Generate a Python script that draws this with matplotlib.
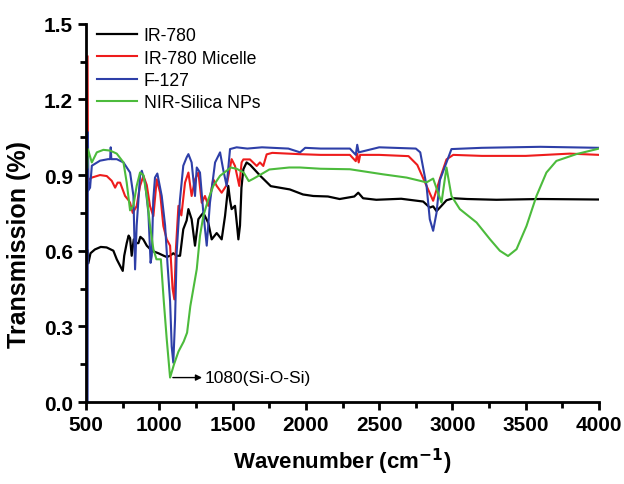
import matplotlib
matplotlib.use("Agg")
import matplotlib.pyplot as plt
from matplotlib.ticker import MultipleLocator, FormatStrFormatter

plt.rcParams["font.family"] = ["Liberation Sans", "DejaVu Sans"]

# IR-780
wn_ir = [510, 515, 530, 560, 600, 640, 686, 709, 732, 750, 760, 777, 790, 800, 811, 825,
         840, 857, 870, 890, 914, 948, 993, 1030, 1050, 1073, 1095, 1118, 1141, 1163, 1186,
         1198, 1220, 1243, 1266, 1285, 1300, 1334, 1357, 1391, 1425, 1448, 1470, 1482,
         1493, 1516, 1530, 1539, 1550, 1560, 1573, 1595, 1620, 1690, 1760, 1890, 1980,
         2050, 2150, 2230, 2330, 2357, 2390, 2480, 2650, 2800, 2845, 2868, 2891, 2920,
         2959, 3005, 3100, 3300, 3600, 4000]
t_ir = [0.60, 0.55, 0.59, 0.605, 0.615, 0.613, 0.60, 0.566, 0.54, 0.52, 0.58, 0.63, 0.66,
        0.65, 0.58, 0.645, 0.63, 0.63, 0.655, 0.645, 0.62, 0.60, 0.59, 0.58, 0.575, 0.58,
        0.59, 0.58, 0.58, 0.685, 0.72, 0.765, 0.725, 0.62, 0.725, 0.74, 0.75, 0.71, 0.645,
        0.67, 0.645, 0.738, 0.857, 0.80, 0.765, 0.778, 0.70, 0.645, 0.70, 0.85, 0.923,
        0.95, 0.94, 0.896, 0.856, 0.843, 0.823, 0.817, 0.815, 0.805, 0.815, 0.830, 0.808,
        0.802, 0.806, 0.795, 0.771, 0.776, 0.757, 0.775, 0.800, 0.808, 0.805, 0.802,
        0.805, 0.803]

# IR-780 Micelle
wn_mic = [510, 513, 539, 595, 641, 675, 698, 715, 732, 766, 790, 800, 818, 845, 868, 891,
          914, 936, 959, 982, 1005, 1027, 1050, 1073, 1090, 1102, 1112, 1130, 1150, 1175,
          1198, 1220, 1243, 1266, 1289, 1311, 1334, 1368, 1391, 1425, 1459, 1493, 1516,
          1545, 1561, 1573, 1618, 1664, 1686, 1709, 1732, 1770, 1950, 2100, 2300, 2340,
          2350, 2360, 2370, 2500, 2700, 2760, 2823, 2868, 2914, 2959, 3005, 3200, 3500,
          3800, 4000]
t_mic = [1.37, 0.88, 0.89, 0.90, 0.896, 0.877, 0.85, 0.87, 0.87, 0.817, 0.80, 0.79, 0.75,
         0.777, 0.857, 0.897, 0.86, 0.777, 0.737, 0.883, 0.83, 0.698, 0.645, 0.62, 0.45,
         0.407, 0.60, 0.778, 0.74, 0.87, 0.91, 0.817, 0.883, 0.91, 0.79, 0.817, 0.778,
         0.883, 0.857, 0.83, 0.86, 0.963, 0.936, 0.857, 0.95, 0.962, 0.962, 0.936, 0.95,
         0.936, 0.982, 0.988, 0.983, 0.980, 0.980, 0.955, 0.985, 0.950, 0.980, 0.980,
         0.975, 0.940, 0.857, 0.798, 0.885, 0.962, 0.980, 0.976, 0.976, 0.985, 0.980]

# F-127
wn_f127 = [510, 512, 516, 527, 539, 595, 650, 664, 668, 672, 709, 755, 800, 823, 834, 845,
           868, 880, 902, 925, 940, 948, 958, 970, 986, 1016, 1039, 1055, 1073, 1084, 1095,
           1107, 1118, 1140, 1163, 1186, 1198, 1220, 1243, 1255, 1277, 1300, 1323, 1345,
           1380, 1414, 1436, 1459, 1482, 1527, 1600, 1700, 1880, 1960, 1995, 2100, 2300,
           2340, 2350, 2360, 2500, 2750, 2780, 2823, 2845, 2868, 2891, 2914, 2959, 2993,
           3200, 3600, 4000]
t_f127 = [0.0, 1.07, 0.84, 0.85, 0.937, 0.957, 0.963, 0.963, 1.01, 0.963, 0.963, 0.95,
          0.91, 0.817, 0.526, 0.70, 0.897, 0.917, 0.87, 0.75, 0.552, 0.58, 0.80, 0.89,
          0.906, 0.817, 0.70, 0.55, 0.40, 0.22, 0.156, 0.328, 0.594, 0.80, 0.937, 0.97,
          0.983, 0.95, 0.817, 0.93, 0.91, 0.75, 0.62, 0.79, 0.95, 0.99, 0.92, 0.857,
          1.003, 1.01, 1.005, 1.010, 1.005, 0.990, 1.008, 1.005, 1.005, 0.980, 1.020,
          0.990, 1.010, 1.005, 0.990, 0.857, 0.725, 0.679, 0.750, 0.880, 0.950, 1.003,
          1.008, 1.012, 1.008]

# NIR-Silica NPs
wn_sil = [508, 512, 539, 573, 618, 664, 709, 755, 777, 800, 823, 845, 868, 891, 914, 936,
          959, 980, 1010, 1030, 1050, 1073, 1100, 1130, 1166, 1189, 1211, 1232, 1255, 1277,
          1300, 1334, 1368, 1414, 1459, 1486, 1527, 1575, 1610, 1640, 1700, 1750, 1886,
          1959, 2100, 2300, 2525, 2687, 2823, 2868, 2925, 2959, 2993, 3050, 3164, 3255,
          3323, 3379, 3437, 3505, 3573, 3641, 3709, 3845, 4000]
t_sil = [0.93, 1.003, 0.95, 0.99, 1.0, 0.997, 0.985, 0.95, 0.87, 0.76, 0.78, 0.857, 0.91,
         0.90, 0.817, 0.70, 0.606, 0.566, 0.566, 0.40, 0.25, 0.097, 0.150, 0.200, 0.240,
         0.275, 0.380, 0.45, 0.527, 0.659, 0.738, 0.804, 0.857, 0.897, 0.917, 0.93, 0.925,
         0.91, 0.876, 0.885, 0.905, 0.922, 0.930, 0.930, 0.925, 0.923, 0.903, 0.890,
         0.871, 0.886, 0.791, 0.930, 0.817, 0.765, 0.712, 0.646, 0.600, 0.579, 0.606,
         0.698, 0.817, 0.910, 0.956, 0.983, 1.005]

fig = plt.figure(figsize=(6.24, 4.85), dpi=100)
ax = fig.add_axes([0.138, 0.169, 0.822, 0.78])

ax.plot(wn_ir, t_ir, color="black", lw=1.6, label="IR-780")
ax.plot(wn_mic, t_mic, color="#ee1c1c", lw=1.5, label="IR-780 Micelle")
ax.plot(wn_f127, t_f127, color="#2e3fa8", lw=1.5, label="F-127")
ax.plot(wn_sil, t_sil, color="#4cbb3c", lw=1.5, label="NIR-Silica NPs")

ax.annotate("", xy=(1310, 0.097), xytext=(1073, 0.097),
            arrowprops=dict(arrowstyle="-|>", color="black", lw=1.0, mutation_scale=9))
ax.text(1312, 0.097, "1080(Si-O-Si)", fontsize=12.5, va="center", ha="left")

ax.set_xlim(500, 4000)
ax.set_ylim(0, 1.5)
ax.xaxis.set_major_locator(MultipleLocator(500))
ax.xaxis.set_minor_locator(MultipleLocator(250))
ax.yaxis.set_major_locator(MultipleLocator(0.3))
ax.yaxis.set_minor_locator(MultipleLocator(0.15))
ax.yaxis.set_major_formatter(FormatStrFormatter("%.1f"))

for s in ["top", "right"]:
    ax.spines[s].set_visible(False)
for s in ["left", "bottom"]:
    ax.spines[s].set_linewidth(2)
ax.tick_params(which="major", direction="out", length=6, width=2, labelsize=15)
ax.tick_params(which="minor", direction="out", length=4, width=2)
for lab in ax.get_xticklabels() + ax.get_yticklabels():
    lab.set_fontweight("bold")

ax.set_xlabel("Wavenumber (cm$^{\\mathbf{-1}}$)", fontsize=16, fontweight="bold", labelpad=8)
ax.set_ylabel("Transmission (%)", fontsize=18, fontweight="bold")
ax.yaxis.set_label_coords(-0.108, 0.42)

leg = ax.legend(loc="upper left", bbox_to_anchor=(0.014, 1.0), frameon=False, fontsize=12.7,
                handlelength=2.3, handletextpad=0.35, labelspacing=0.3,
                borderaxespad=0.0, borderpad=0.2)

fig.savefig("out.png", dpi=100)
